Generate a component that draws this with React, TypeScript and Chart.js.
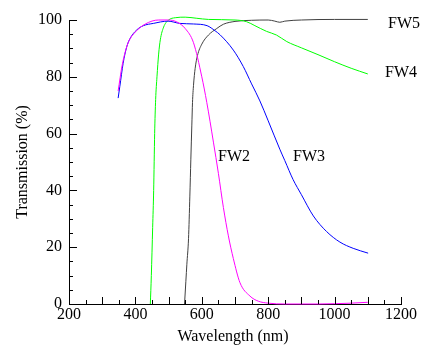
import React, { useEffect, useRef } from "react";
import { Chart, registerables } from "chart.js";

Chart.register(...registerables);

const fw2Wl = [348, 360, 370, 380, 400, 430, 470, 500, 525, 550, 575, 600, 615, 635, 650, 665, 680, 695, 715, 745, 770, 800, 850, 900, 950, 1000, 1050, 1100];
const fw2T = [75, 84, 89, 92.5, 95.8, 98.6, 100, 100, 99.3, 97, 92, 80, 71, 57, 46, 34, 24, 16, 7.5, 2.8, 1, 0.3, 0, 0, 0, 0.1, 0.3, 0.6];

const fw3Wl = [348, 353, 363, 374, 384, 404, 424, 454, 498, 534, 575, 616, 640, 655, 695, 725, 750, 775, 800, 835, 850, 875, 900, 936, 976, 1016, 1056, 1101];
const fw3T = [72.5, 76.5, 84.7, 90.6, 93.5, 96.5, 98, 98.8, 99.6, 98.8, 98.6, 98, 96.2, 94.8, 89.4, 83.6, 77.5, 71.5, 64.5, 54.5, 50.5, 43.8, 38.5, 31, 25.5, 21.8, 19.6, 17.9];

const fw4Wl = [445, 448, 452, 455, 458, 461, 465, 470, 475, 485, 500, 520, 550, 585, 620, 700, 735, 760, 795, 825, 856, 900, 950, 1000, 1050, 1100];
const fw4T = [0, 10, 27, 40, 60, 72, 80, 88, 93, 97.5, 100, 100.8, 101, 100.6, 100.2, 100, 99.4, 98, 96, 94.7, 92.4, 90.2, 87.8, 85.3, 83, 81];

const fw5Wl = [548, 552, 555, 560, 564, 567, 570, 572, 575, 580, 587, 600, 620, 645, 665, 700, 750, 800, 820, 835, 850, 900, 1000, 1100];
const fw5T = [0, 8, 14, 23, 38, 51, 63, 71, 77, 83, 87.5, 91.5, 94.7, 97, 98.5, 99.5, 99.9, 100, 99.6, 99.2, 99.6, 100, 100.2, 100.2];

const seriesNames = ["FW2", "FW3", "FW4", "FW5"];
const labelWl = [649, 875, 1152, 1161];
const labelT = [51.8, 51.8, 81.3, 98.6];

const xTicks = [200, 400, 600, 800, 1000, 1200];
const yTicks = [0, 20, 40, 60, 80, 100];
const xTitle = "Wavelength (nm)";
const yTitle = "Transmission (%)";

const FONT = "16px 'Liberation Serif', 'Times New Roman', serif";

function pts(xs: number[], ys: number[]) {
  return xs.map((x, i) => ({ x, y: ys[i] }));
}

const annotate = {
  id: "annotate",
  afterDraw(chart: any) {
    const { ctx, scales } = chart;
    const x = scales.x;
    const y = scales.y;
    ctx.save();
    ctx.strokeStyle = "#000";
    ctx.lineWidth = 1;
    ctx.beginPath();
    for (let v = 200; v <= 1200; v += 50) {
      const px = Math.round(x.getPixelForValue(v)) + 0.5;
      const len = v % 100 === 0 ? 7 : 4;
      ctx.moveTo(px, y.bottom);
      ctx.lineTo(px, y.bottom - len);
    }
    for (let v = 0; v <= 100; v += 5) {
      const py = Math.round(y.getPixelForValue(v)) + 0.5;
      const len = v % 20 === 0 ? 8 : 4;
      ctx.moveTo(x.left, py);
      ctx.lineTo(x.left + len, py);
    }
    ctx.stroke();

    ctx.fillStyle = "#000";
    ctx.font = FONT;
    ctx.textBaseline = "middle";

    // x tick labels
    ctx.textAlign = "center";
    xTicks.forEach((v) => {
      ctx.fillText(String(v), x.getPixelForValue(v), y.bottom + 11);
    });
    // y tick labels
    ctx.textAlign = "right";
    yTicks.forEach((v) => {
      ctx.fillText(String(v), x.left - 7, y.getPixelForValue(v));
    });
    // axis titles
    ctx.textAlign = "center";
    ctx.fillText(xTitle, (x.left + x.right) / 2 - 2, y.bottom + 33);
    ctx.save();
    ctx.translate(23, (y.top + y.bottom) / 2);
    ctx.rotate(-Math.PI / 2);
    ctx.fillText(yTitle, 0, 0);
    ctx.restore();

    // series labels
    ctx.textAlign = "left";
    seriesNames.forEach((n, i) => {
      ctx.fillText(n, x.getPixelForValue(labelWl[i]), y.getPixelForValue(labelT[i]));
    });
    ctx.restore();
  },
};

export default function App() {
  const ref = useRef<HTMLCanvasElement>(null);
  useEffect(() => {
    document.body.style.margin = "0";
    const chart = new Chart(ref.current!, {
      type: "line",
      data: {
        datasets: [
          { label: "FW2", data: pts(fw2Wl, fw2T), borderColor: "#ff00ff" },
          { label: "FW3", data: pts(fw3Wl, fw3T), borderColor: "#0000ff" },
          { label: "FW4", data: pts(fw4Wl, fw4T), borderColor: "#00ff00" },
          { label: "FW5", data: pts(fw5Wl, fw5T), borderColor: "#404040" },
        ].map((d) => ({
          ...d,
          borderWidth: 1,
          pointRadius: 0,
          cubicInterpolationMode: "monotone" as const,
          fill: false,
          clip: false as any,
        })),
      },
      options: {
        animation: false,
        responsive: false,
        devicePixelRatio: 1,
        layout: { padding: { left: 0, right: 37, top: 20, bottom: 0 } },
        plugins: { legend: { display: false }, tooltip: { enabled: false } },
        scales: {
          x: {
            type: "linear",
            min: 200,
            max: 1200,
            afterFit: (s: any) => {
              s.height = 51;
            },
            grid: { display: false, drawTicks: false },
            border: { display: true, color: "#000", width: 1 },
            ticks: { display: false },
            title: { display: false },
          },
          y: {
            type: "linear",
            min: 0,
            max: 100,
            afterFit: (s: any) => {
              s.width = 69;
            },
            grid: { display: false, drawTicks: false },
            border: { display: true, color: "#000", width: 1 },
            ticks: { display: false },
            title: { display: false },
          },
        },
      },
      plugins: [annotate],
    });
    return () => chart.destroy();
  }, []);
  return <canvas ref={ref} width={438} height={355} style={{ display: "block" }} />;
}
